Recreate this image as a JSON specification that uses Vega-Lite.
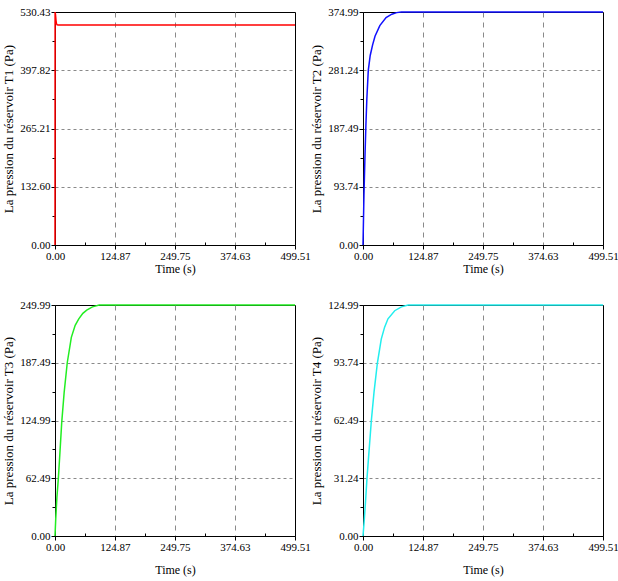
{
  "$schema": "https://vega.github.io/schema/vega-lite/v6.json",
  "background": "white",
  "padding": {"left": 2, "top": 5, "right": 5, "bottom": 2},
  "bounds": "flush",
  "spacing": {"row": 60, "column": 68},
  "columns": 2,
  "datasets": {
    "T1": [
      {"t": 0, "p": 0}, {"t": 0.2, "p": 530.43}, {"t": 1, "p": 525}, {"t": 2, "p": 512},
      {"t": 3, "p": 504}, {"t": 4.5, "p": 501.3}, {"t": 7, "p": 500.8}, {"t": 499.51, "p": 500.8}
    ],
    "T2": [
      {"t": 0, "p": 0}, {"t": 2, "p": 80}, {"t": 4, "p": 140}, {"t": 6, "p": 192},
      {"t": 8, "p": 235}, {"t": 11, "p": 281}, {"t": 15, "p": 305}, {"t": 20, "p": 322},
      {"t": 25, "p": 336}, {"t": 35, "p": 353}, {"t": 48, "p": 366}, {"t": 60, "p": 371.5},
      {"t": 70, "p": 374}, {"t": 80, "p": 374.99}, {"t": 499.51, "p": 374.99}
    ],
    "T3": [
      {"t": 0, "p": 0}, {"t": 1.5, "p": 18}, {"t": 4, "p": 42}, {"t": 7, "p": 62.5},
      {"t": 10, "p": 88}, {"t": 14, "p": 123}, {"t": 19, "p": 155}, {"t": 25.5, "p": 187.5},
      {"t": 34, "p": 215}, {"t": 42, "p": 228}, {"t": 49.5, "p": 235}, {"t": 58, "p": 241},
      {"t": 66, "p": 244.5}, {"t": 78, "p": 248}, {"t": 92, "p": 249.99}, {"t": 499.51, "p": 249.99}
    ],
    "T4": [
      {"t": 0, "p": 0}, {"t": 2.5, "p": 8}, {"t": 5.6, "p": 20}, {"t": 8.3, "p": 31.24},
      {"t": 12, "p": 44}, {"t": 17.4, "p": 62.5}, {"t": 23, "p": 78}, {"t": 30, "p": 93.74},
      {"t": 38, "p": 106.5}, {"t": 45, "p": 113}, {"t": 52, "p": 117.5}, {"t": 66, "p": 121.9},
      {"t": 80, "p": 124}, {"t": 94, "p": 124.99}, {"t": 499.51, "p": 124.99}
    ]
  },
  "config": {
    "font": "Liberation Serif",
    "view": {"stroke": "#000", "strokeWidth": 1},
    "axis": {
      "labelFont": "Liberation Serif", "labelFontSize": 11, "labelColor": "#000",
      "titleFont": "Liberation Serif", "titleFontSize": 12, "titleFontWeight": 400, "titleColor": "#000",
      "domainColor": "#000", "tickColor": "#000", "gridColor": "#8a8a8a", "labelPadding": 1,
      "labelFlush": false, "labelOverlap": false, "format": ".2f", "titlePadding": 4
    },
    "axisX": {"gridDash": [5, 5]},
    "axisY": {"gridDash": [3, 3], "titleFontSize": 13}
  },
  "concat": [
    {
      "width": 240, "height": 233,
      "data": {"name": "T1"},
      "mark": {"type": "line", "color": "#ff0000", "strokeWidth": 1.5},
      "encoding": {
        "x": {"field": "t", "type": "quantitative", "scale": {"domain": [0, 499.51], "nice": false, "zero": false},
          "axis": {"title": "Time (s)", "titleFontWeight": 400, "titlePadding": 2,
            "values": [0, 62.435, 124.87, 187.31, 249.75, 312.19, 374.63, 437.07, 499.51],
            "labelOpacity": {"condition": {"test": "indexof([62.435, 187.31, 312.19, 437.07], datum.value) >= 0", "value": 0}, "value": 1},
            "gridOpacity": {"condition": {"test": "indexof([0, 499.51, 62.435, 187.31, 312.19, 437.07], datum.value) >= 0", "value": 0}, "value": 1},
            "tickSize": {"condition": {"test": "indexof([62.435, 187.31, 312.19, 437.07], datum.value) >= 0", "value": -3}, "value": 4}}},
        "y": {"field": "p", "type": "quantitative", "scale": {"domain": [0, 530.43], "nice": false},
          "axis": {"title": "La pression du réservoir T1 (Pa)",
            "values": [0, 66.3, 132.6, 198.91, 265.21, 331.52, 397.82, 464.13, 530.43],
            "labelOpacity": {"condition": {"test": "indexof([66.3, 198.91, 331.52, 464.13], datum.value) >= 0", "value": 0}, "value": 1},
            "gridOpacity": {"condition": {"test": "indexof([0, 530.43, 66.3, 198.91, 331.52, 464.13], datum.value) >= 0", "value": 0}, "value": 1},
            "tickSize": {"condition": {"test": "indexof([66.3, 198.91, 331.52, 464.13], datum.value) >= 0", "value": 3}, "value": 4}}}
      }
    },
    {
      "width": 240, "height": 233,
      "data": {"name": "T2"},
      "mark": {"type": "line", "color": "#1010ff", "strokeWidth": 1.5},
      "encoding": {
        "x": {"field": "t", "type": "quantitative", "scale": {"domain": [0, 499.51], "nice": false, "zero": false},
          "axis": {"title": "Time (s)", "titleFontWeight": 400, "titlePadding": 2,
            "values": [0, 62.435, 124.87, 187.31, 249.75, 312.19, 374.63, 437.07, 499.51],
            "labelOpacity": {"condition": {"test": "indexof([62.435, 187.31, 312.19, 437.07], datum.value) >= 0", "value": 0}, "value": 1},
            "gridOpacity": {"condition": {"test": "indexof([0, 499.51, 62.435, 187.31, 312.19, 437.07], datum.value) >= 0", "value": 0}, "value": 1},
            "tickSize": {"condition": {"test": "indexof([62.435, 187.31, 312.19, 437.07], datum.value) >= 0", "value": -3}, "value": 4}}},
        "y": {"field": "p", "type": "quantitative", "scale": {"domain": [0, 374.99], "nice": false},
          "axis": {"title": "La pression du réservoir T2 (Pa)",
            "values": [0, 46.87, 93.74, 140.62, 187.49, 234.37, 281.24, 328.12, 374.99],
            "labelOpacity": {"condition": {"test": "indexof([46.87, 140.62, 234.37, 328.12], datum.value) >= 0", "value": 0}, "value": 1},
            "gridOpacity": {"condition": {"test": "indexof([0, 374.99, 46.87, 140.62, 234.37, 328.12], datum.value) >= 0", "value": 0}, "value": 1},
            "tickSize": {"condition": {"test": "indexof([46.87, 140.62, 234.37, 328.12], datum.value) >= 0", "value": 3}, "value": 4}}}
      }
    },
    {
      "width": 240, "height": 231,
      "data": {"name": "T3"},
      "mark": {"type": "line", "color": "#22ee22", "strokeWidth": 1.5},
      "encoding": {
        "x": {"field": "t", "type": "quantitative", "scale": {"domain": [0, 499.51], "nice": false, "zero": false},
          "axis": {"title": "Time (s)", "titleFontWeight": 400, "titlePadding": 12,
            "values": [0, 62.435, 124.87, 187.31, 249.75, 312.19, 374.63, 437.07, 499.51],
            "labelOpacity": {"condition": {"test": "indexof([62.435, 187.31, 312.19, 437.07], datum.value) >= 0", "value": 0}, "value": 1},
            "gridOpacity": {"condition": {"test": "indexof([0, 499.51, 62.435, 187.31, 312.19, 437.07], datum.value) >= 0", "value": 0}, "value": 1},
            "tickSize": {"condition": {"test": "indexof([62.435, 187.31, 312.19, 437.07], datum.value) >= 0", "value": -3}, "value": 4}}},
        "y": {"field": "p", "type": "quantitative", "scale": {"domain": [0, 249.99], "nice": false},
          "axis": {"title": "La pression du réservoir T3 (Pa)",
            "values": [0, 31.245, 62.49, 93.74, 124.99, 156.24, 187.49, 218.74, 249.99],
            "labelOpacity": {"condition": {"test": "indexof([31.245, 93.74, 156.24, 218.74], datum.value) >= 0", "value": 0}, "value": 1},
            "gridOpacity": {"condition": {"test": "indexof([0, 249.99, 31.245, 93.74, 156.24, 218.74], datum.value) >= 0", "value": 0}, "value": 1},
            "tickSize": {"condition": {"test": "indexof([31.245, 93.74, 156.24, 218.74], datum.value) >= 0", "value": 3}, "value": 4}}}
      }
    },
    {
      "width": 240, "height": 231,
      "data": {"name": "T4"},
      "mark": {"type": "line", "color": "#22eeee", "strokeWidth": 1.5},
      "encoding": {
        "x": {"field": "t", "type": "quantitative", "scale": {"domain": [0, 499.51], "nice": false, "zero": false},
          "axis": {"title": "Time (s)", "titleFontWeight": 400, "titlePadding": 12,
            "values": [0, 62.435, 124.87, 187.31, 249.75, 312.19, 374.63, 437.07, 499.51],
            "labelOpacity": {"condition": {"test": "indexof([62.435, 187.31, 312.19, 437.07], datum.value) >= 0", "value": 0}, "value": 1},
            "gridOpacity": {"condition": {"test": "indexof([0, 499.51, 62.435, 187.31, 312.19, 437.07], datum.value) >= 0", "value": 0}, "value": 1},
            "tickSize": {"condition": {"test": "indexof([62.435, 187.31, 312.19, 437.07], datum.value) >= 0", "value": -3}, "value": 4}}},
        "y": {"field": "p", "type": "quantitative", "scale": {"domain": [0, 124.99], "nice": false},
          "axis": {"title": "La pression du réservoir T4 (Pa)",
            "values": [0, 15.62, 31.24, 46.87, 62.49, 78.12, 93.74, 109.37, 124.99],
            "labelOpacity": {"condition": {"test": "indexof([15.62, 46.87, 78.12, 109.37], datum.value) >= 0", "value": 0}, "value": 1},
            "gridOpacity": {"condition": {"test": "indexof([0, 124.99, 15.62, 46.87, 78.12, 109.37], datum.value) >= 0", "value": 0}, "value": 1},
            "tickSize": {"condition": {"test": "indexof([15.62, 46.87, 78.12, 109.37], datum.value) >= 0", "value": 3}, "value": 4}}}
      }
    }
  ]
}
